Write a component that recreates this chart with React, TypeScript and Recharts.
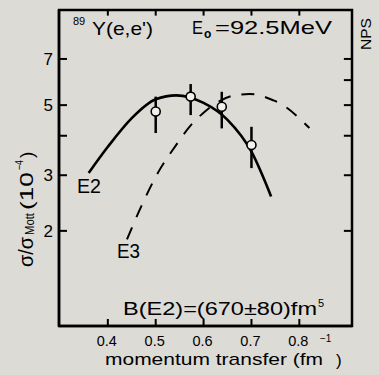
import { ComposedChart, ErrorBar, Line, ReferenceArea, ReferenceLine, Scatter, XAxis, YAxis } from "recharts";

const INK = "black";
const BG = "#dcdbd6";
const FONT = "'Liberation Sans', Arial, sans-serif";

// momentum transfer ticks (fm^-1) and log ticks on the cross-section axis
const xTicks = [0.4, 0.5, 0.6, 0.7, 0.8];
const yTicks = [2, 3, 4, 5, 6, 7];
const yLabeled = [2, 3, 5, 7];

// measured points, sigma/sigma_Mott in units of 1e-4
const pointQ = [0.5, 0.573, 0.638, 0.7];
const pointVal = [4.77, 5.32, 4.94, 3.74];
const pointLow = [4.08, 4.65, 4.22, 3.16];
const pointHigh = [5.32, 5.83, 5.51, 4.27];

// E2 fit (solid)
const e2Q = [0.36, 0.4, 0.45, 0.5, 0.543, 0.6, 0.65, 0.7, 0.741];
const e2Val = [3.05, 3.69, 4.55, 5.22, 5.37, 5.08, 4.49, 3.56, 2.57];

// E3 curve (dashed)
const e3Q = [0.44, 0.473, 0.506, 0.54, 0.574, 0.597, 0.667, 0.696, 0.715, 0.744, 0.758, 0.821];
const e3Val = [1.88, 2.45, 3.08, 3.69, 4.33, 4.69, 5.38, 5.42, 5.38, 5.19, 5.08, 4.23];

const points = pointQ.map((q, i) => ({
  q,
  v: pointVal[i],
  err: [pointVal[i] - pointLow[i], pointHigh[i] - pointVal[i]],
}));
const e2 = e2Q.map((q, i) => ({ q, v: e2Val[i] }));
const e3 = e3Q.map((q, i) => ({ q, v: e3Val[i] }));

const xDomain = [0.298, 0.91];
const yDomain = [1, 10];
// inward tick lengths on the top / right edges, in data units
const topTickEnd = 9.6;
const rightTickEnd = 0.893;

// default tickSize 6 + tickMargin 2: the anchor handed in sits 8px off the axis line
function BottomTick({ x, y, payload }: any) {
  const ay = y - 8;
  return (
    <g>
      <path d={`M${x},${ay} V${ay - 7}`} stroke="black" strokeWidth={2} fill="none" />
      <text x={x - 1} y={ay + 20} textAnchor="middle" fontSize={14.5} fill={INK} fontFamily={FONT}>
        {Number(payload.value).toFixed(1)}
      </text>
    </g>
  );
}

function LeftTick({ x, y, payload }: any) {
  const ax = x + 8;
  return (
    <g>
      <path d={`M${ax},${y} H${ax + 8}`} stroke="black" strokeWidth={2} fill="none" />
      {yLabeled.includes(payload.value) && (
        <text x={ax - 6} y={y + 6} textAnchor="end" fontSize={17} fill={INK} fontFamily={FONT}>
          {payload.value}
        </text>
      )}
    </g>
  );
}

function Notes() {
  const t = { fill: INK, fontFamily: FONT };
  return (
    <svg
      width={379}
      height={375}
      style={{ position: "absolute", left: 0, top: 0, pointerEvents: "none" }}
    >
      <text x={73} y={25} fontSize={11} {...t}>89</text>
      <text x={92} y={35} fontSize={19} textLength={61} lengthAdjust="spacingAndGlyphs" {...t}>
        Y(e,e')
      </text>
      <text x={192} y={34} fontSize={19} textLength={11} lengthAdjust="spacingAndGlyphs" {...t}>E</text>
      <text x={204} y={38} fontSize={12} fontWeight="bold" {...t}>o</text>
      <text x={215} y={34} fontSize={19} textLength={117} lengthAdjust="spacingAndGlyphs" {...t}>
        =92.5MeV
      </text>
      <text
        transform="translate(371,50) rotate(-90)"
        fontSize={14}
        textLength={32}
        lengthAdjust="spacingAndGlyphs"
        {...t}
      >
        NPS
      </text>

      <text x={77} y={193} fontSize={20} textLength={24} lengthAdjust="spacingAndGlyphs" {...t}>E2</text>
      <text x={117} y={258} fontSize={20} textLength={23} lengthAdjust="spacingAndGlyphs" {...t}>E3</text>

      <text x={123} y={315} fontSize={18} textLength={194} lengthAdjust="spacingAndGlyphs" {...t}>
        B(E2)=(670±80)fm
      </text>
      <text x={318} y={307} fontSize={11} {...t}>5</text>

      <text x={105} y={365} fontSize={17} textLength={218} lengthAdjust="spacingAndGlyphs" {...t}>
        momentum transfer (fm
      </text>
      <text x={320} y={342} fontSize={10} {...t}>−1</text>
      <text x={336} y={366} fontSize={17} {...t}>)</text>

      <g transform="translate(33,267) rotate(-90)">
        <text x={0} y={0} fontSize={20} textLength={30} lengthAdjust="spacingAndGlyphs" {...t}>σ/σ</text>
        <text x={32} y={1} fontSize={12} textLength={22} lengthAdjust="spacingAndGlyphs" {...t}>Mott</text>
        <text x={57} y={0} fontSize={19} textLength={38} lengthAdjust="spacingAndGlyphs" {...t}>(10</text>
        <text x={97} y={-10} fontSize={11} textLength={10} lengthAdjust="spacingAndGlyphs" {...t}>−4</text>
        <text x={109} y={0} fontSize={19} {...t}>)</text>
      </g>
    </svg>
  );
}

export default function App() {
  return (
    <div style={{ position: "absolute", left: 0, top: 0, width: 379, height: 375, background: BG }}>
      <ComposedChart width={379} height={375} margin={{ top: 10, right: 27, bottom: 0, left: 0 }}>
        <XAxis
          xAxisId="b"
          dataKey="q"
          type="number"
          domain={xDomain}
          ticks={xTicks}
          height={49}
          axisLine={{ stroke: "black", strokeWidth: 2.5 }}
          tickLine={{ stroke: "none" }}
          tick={<BottomTick />}
        />
        <YAxis
          yAxisId="l"
          type="number"
          scale="log"
          domain={yDomain}
          ticks={yTicks}
          width={59}
          axisLine={{ stroke: "black", strokeWidth: 2.5 }}
          tickLine={{ stroke: "none" }}
          tick={<LeftTick />}
        />
        <ReferenceArea
          xAxisId="b"
          yAxisId="l"
          x1={xDomain[0]}
          x2={xDomain[1]}
          y1={yDomain[0]}
          y2={yDomain[1]}
          fill="none"
          stroke="black"
          strokeWidth={2.5}
        />
        {xTicks.map((q) => (
          <ReferenceLine
            key={`t${q}`}
            xAxisId="b"
            yAxisId="l"
            segment={[{ x: q, y: yDomain[1] }, { x: q, y: topTickEnd }]}
            stroke="black"
            strokeWidth={2}
          />
        ))}
        {yTicks.map((v) => (
          <ReferenceLine
            key={`r${v}`}
            xAxisId="b"
            yAxisId="l"
            segment={[{ x: xDomain[1], y: v }, { x: rightTickEnd, y: v }]}
            stroke="black"
            strokeWidth={2}
          />
        ))}
        <Line
          xAxisId="b"
          yAxisId="l"
          data={e3}
          dataKey="v"
          type="monotone"
          stroke="black"
          strokeWidth={2}
          strokeDasharray="13 11"
          dot={false}
          isAnimationActive={false}
        />
        <Line
          xAxisId="b"
          yAxisId="l"
          data={e2}
          dataKey="v"
          type="monotone"
          stroke="black"
          strokeWidth={2.6}
          dot={false}
          isAnimationActive={false}
        />
        <Scatter
          xAxisId="b"
          yAxisId="l"
          data={points}
          dataKey="v"
          fill="#f1f1ed"
          stroke="black"
          strokeWidth={1.6}
          isAnimationActive={false}
        >
          <ErrorBar dataKey="err" direction="y" width={0} stroke="black" strokeWidth={2.5} />
        </Scatter>
      </ComposedChart>
      <Notes />
    </div>
  );
}
